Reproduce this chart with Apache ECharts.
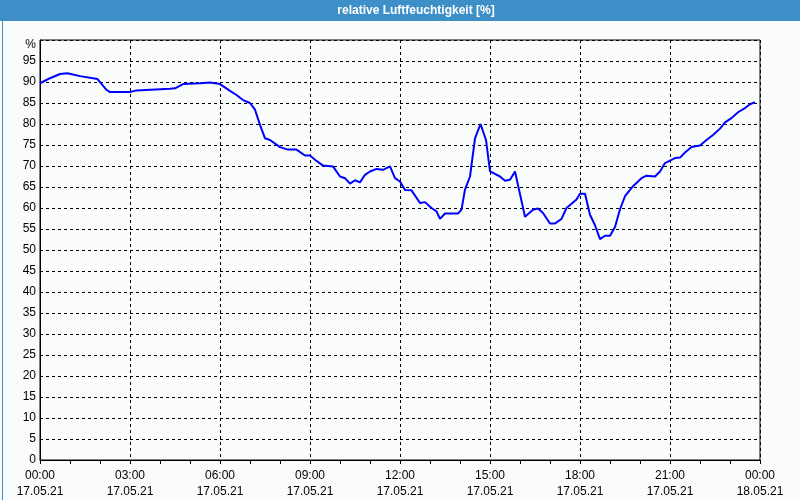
<!DOCTYPE html>
<html><head><meta charset="utf-8">
<script src="https://cdn.jsdelivr.net/npm/echarts@6/dist/echarts.min.js"></script>
<style>html,body{margin:0;padding:0;background:#f9fcfa;}#c{width:800px;height:500px;}</style>
</head><body><div id="c"></div>
<script>
const titleText = 'relative Luftfeuchtigkeit [%]';
const times = ['00:00','00:20','00:40','00:55','01:20','01:55','02:13','02:20','03:00','03:13','04:20','04:30','04:46','05:20','05:40','06:00','06:20','06:33','06:46','07:00','07:10','07:20','07:30','07:40','08:00','08:16','08:33','08:50','09:00','09:10','09:26','09:46','10:00','10:10','10:20','10:30','10:40','10:50','11:00','11:13','11:26','11:40','11:50','12:00','12:10','12:23','12:40','12:50','13:03','13:13','13:20','13:30','13:56','14:03','14:10','14:20','14:30','14:41','14:52','15:00','15:20','15:30','15:40','15:50','16:10','16:26','16:36','16:46','17:00','17:10','17:23','17:33','17:53','18:00','18:10','18:20','18:30','18:40','18:50','19:00','19:10','19:20','19:30','19:46','20:03','20:13','20:30','20:40','20:50','21:00','21:10','21:20','21:30','21:43','22:00','22:13','22:26','22:40','22:50','23:03','23:16','23:30','23:40','23:50'];
const humidity = [89.7,90.9,91.9,92.1,91.4,90.7,88.1,87.6,87.6,88.0,88.4,88.5,89.5,89.7,89.9,89.5,87.9,86.9,85.7,85.0,83.4,79.8,76.6,76.2,74.5,73.9,73.9,72.5,72.5,71.5,70.1,69.9,67.5,67.1,65.8,66.6,66.1,67.9,68.7,69.3,69.1,69.9,67.1,66.3,64.3,64.2,61.2,61.4,60.0,59.2,57.4,58.7,58.7,59.6,64.4,67.5,76.6,80.0,76.2,68.7,67.5,66.5,66.7,68.7,57.9,59.6,59.9,58.8,56.3,56.3,57.4,60.0,62.0,63.4,63.4,58.4,55.9,52.6,53.4,53.4,55.5,59.7,62.8,65.2,67.1,67.7,67.5,68.7,70.7,71.3,71.9,72.0,73.2,74.5,74.9,76.2,77.4,78.9,80.4,81.4,82.8,83.8,84.7,85.2];
const xTickLabels = ['00:00\n17.05.21','03:00\n17.05.21','06:00\n17.05.21','09:00\n17.05.21','12:00\n17.05.21','15:00\n17.05.21','18:00\n17.05.21','21:00\n17.05.21','00:00\n18.05.21'];

const toH = s => { const p = s.split(':'); return +p[0] + (+p[1])/60; };
const data = times.map((t,i)=>[toH(t), humidity[i]]);
const FONT = 'Liberation Sans';
const chart = echarts.init(document.getElementById('c'), null, {renderer:'canvas'});
chart.setOption({
  backgroundColor:'#f9fcfa',
  animation:false,
  grid:{left:40,right:40,top:40,bottom:39,show:true,borderColor:'#000',borderWidth:1,backgroundColor:'transparent'},
  xAxis:{type:'value',min:0,max:24,interval:3,
    axisLine:{lineStyle:{color:'#000',width:1}},
    axisTick:{show:true,length:4,lineStyle:{color:'#000'}},
    minorTick:{show:true,splitNumber:3,length:4,lineStyle:{color:'#000'}},
    splitLine:{show:true,lineStyle:{color:'#000',type:[3,3],width:1}},
    axisLabel:{fontFamily:FONT,fontSize:12,color:'#000',lineHeight:16,margin:8,
      formatter:v=>xTickLabels[Math.round(v/3)]}
  },
  yAxis:{type:'value',min:0,max:100,interval:5,
    axisLine:{show:true,lineStyle:{color:'#000',width:1}},
    axisTick:{show:false},
    splitLine:{show:true,lineStyle:{color:'#000',type:[3,3],width:1}},
    axisLabel:{fontFamily:FONT,fontSize:12,color:'#000',margin:4,
      formatter:v=> v===100 ? '{p|%}' : String(v),
      rich:{p:{fontFamily:FONT,fontSize:12,color:'#000',padding:[10,0,0,0]}}}
  },
  series:[{type:'line',data:data,showSymbol:false,symbol:'none',
    lineStyle:{color:'#0000ff',width:2},z:5}],
  graphic:[
    {type:'rect',left:0,top:0,shape:{width:800,height:21},style:{fill:'#3d8fc7'},z:100},
    {type:'text',x:416,y:11,style:{text:titleText,fill:'#fff',font:'bold 12px "Liberation Sans"',align:'center',verticalAlign:'middle'},z:101},
    {type:'rect',left:0,top:0,shape:{x:0.5,y:0.5,width:799,height:499},style:{fill:'none',stroke:'#3d8fc7',lineWidth:1},z:100}
  ]
});
</script></body></html>
